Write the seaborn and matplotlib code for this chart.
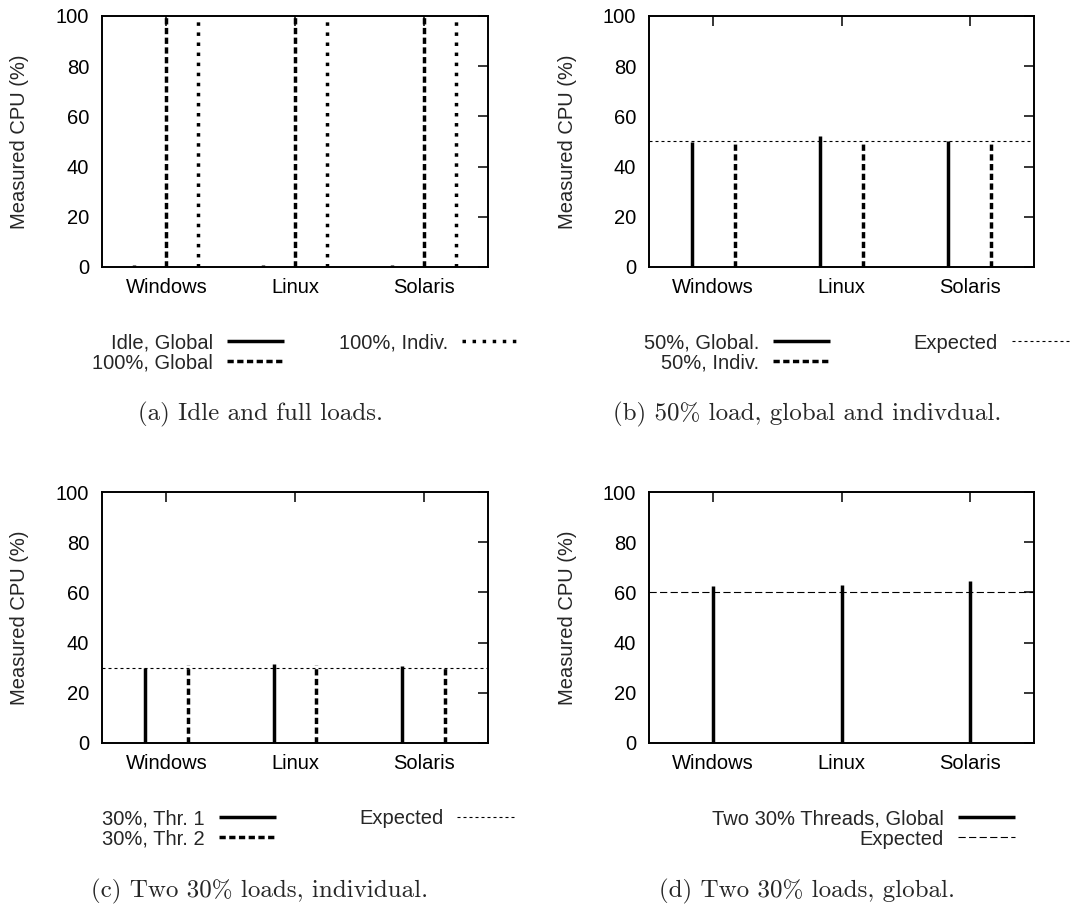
import numpy as np
import pandas as pd
import matplotlib
matplotlib.use("Agg")
import matplotlib.pyplot as plt
from matplotlib.lines import Line2D
import seaborn as sns

# ---------------- data ----------------
categories = ["Windows", "Linux", "Solaris"]
y_ticks = [0, 20, 40, 60, 80, 100]

# (a) Idle and full loads
a_labels = ["Idle, Global", "100%, Global", "100%, Indiv."]
a_idle_global = [0.8, 0.8, 0.7]
a_full_global = [100, 100, 100]
a_full_indiv = [99, 99, 99]

# (b) 50% load
b_labels = ["50%, Global.", "50%, Indiv.", "Expected"]
b_global = [49.8, 52.1, 50.2]
b_indiv = [49.8, 49.8, 49.8]
b_expected = 50

# (c) Two 30% loads, individual
c_labels = ["30%, Thr. 1", "30%, Thr. 2", "Expected"]
c_thr1 = [29.7, 31.3, 30.8]
c_thr2 = [31.0, 31.0, 30.5]
c_expected = 30

# (d) Two 30% loads, global
d_labels = ["Two 30% Threads, Global", "Expected"]
d_global = [62.6, 62.8, 64.4]
d_expected = 60

captions = ["(a) Idle and full loads.",
            "(b) 50% load, global and indivdual.",
            "(c) Two 30% loads, individual.",
            "(d) Two 30% loads, global."]

# ---------------- style ----------------
sns.set_style("white")
plt.rcParams["font.family"] = ["Liberation Sans", "DejaVu Sans"]
plt.rcParams["lines.solid_capstyle"] = "butt"
plt.rcParams["lines.dash_capstyle"] = "butt"

FS = 14.5
BAR_LW = 2.5
SOLID = ""
DASHED = (1.8, 1.0)
DOTTED = (1.0, 1.9)
EXP_LW = 0.8
EXP_DOT = (2.7, 2.7)
EXP_DASH = (6.5, 3.0)

W, H = 1092, 907
fig = plt.figure(figsize=(W / 100, H / 100), dpi=100)


def add_ax(x0, y0, x1, y1):
    return fig.add_axes([x0 / W, 1 - y1 / H, (x1 - x0) / W, (y1 - y0) / H])


axes = [add_ax(102, 16, 488, 267), add_ax(649, 16, 1034, 267),
        add_ax(102, 492, 488, 743), add_ax(649, 492, 1034, 743)]


def draw_bars(ax, series):
    rows = []
    order = []
    dash_map = {}
    for label, values, offset, dash in series:
        order.append(label)
        dash_map[label] = dash
        for i, v in enumerate(values):
            for yv in (0, v):
                rows.append({"x": i + offset, "y": yv, "series": label,
                             "unit": f"{label}|{i}"})
    df = pd.DataFrame(rows)
    sns.lineplot(data=df, x="x", y="y", style="series", style_order=order,
                 units="unit", estimator=None, sort=False, dashes=dash_map,
                 color="black", linewidth=BAR_LW, legend=False, ax=ax)


def style_axes(ax):
    ax.set_xlim(-0.5, 2.5)
    ax.set_ylim(0, 100)
    ax.set_xticks(range(len(categories)))
    ax.set_xticklabels(categories)
    ax.set_yticks(y_ticks)
    ax.set_xlabel("")
    ax.set_ylabel("Measured CPU (%)", fontsize=FS)
    ax.yaxis.set_label_coords(-0.188, 0.5)
    ax.tick_params(axis="both", direction="in", length=7, width=1.1,
                   top=True, right=True, labelsize=FS, colors="black")
    ax.tick_params(axis="y", pad=9.2)
    ax.tick_params(axis="x", pad=8)
    for sp in ax.spines.values():
        sp.set_visible(True)
        sp.set_linewidth(1.4)
        sp.set_color("black")


off = 1 / 4
draw_bars(axes[0], [(a_labels[0], a_idle_global, -off, SOLID),
                    (a_labels[1], a_full_global, 0.0, DASHED),
                    (a_labels[2], a_full_indiv, off, DOTTED)])
off2 = 1 / 6
draw_bars(axes[1], [(b_labels[0], b_global, -off2, SOLID),
                    (b_labels[1], b_indiv, off2, DASHED)])
axes[1].axhline(b_expected, color="black", lw=EXP_LW, dashes=EXP_DOT)
draw_bars(axes[2], [(c_labels[0], c_thr1, -off2, SOLID),
                    (c_labels[1], c_thr2, off2, DASHED)])
axes[2].axhline(c_expected, color="black", lw=EXP_LW, dashes=EXP_DOT)
draw_bars(axes[3], [(d_labels[0], d_global, 0.0, SOLID)])
axes[3].axhline(d_expected, color="black", lw=EXP_LW, dashes=EXP_DASH)

for ax in axes:
    style_axes(ax)


def h(dash, lw=BAR_LW):
    if dash == "":
        return Line2D([], [], color="black", lw=lw)
    return Line2D([], [], color="black", lw=lw, dashes=dash)


def legend(handles, labels, x, ytop, ncol, colsp):
    fig.legend(handles, labels, loc="upper left",
               bbox_to_anchor=(x / W, 1 - ytop / H),
               bbox_transform=fig.transFigure, frameon=False, borderpad=0,
               borderaxespad=0, markerfirst=False, handlelength=2.83,
               handletextpad=0.7, labelspacing=0.05, columnspacing=colsp,
               ncol=ncol, fontsize=FS)


legend([h(SOLID), h(DASHED), h(DOTTED)], a_labels, 92, 333.5, 2, 2.74)
legend([h(SOLID), h(DASHED), h(EXP_DOT, EXP_LW)], b_labels, 644, 333.5, 2, 4.13)
legend([h(SOLID), h(DASHED), h(EXP_DOT, EXP_LW)], c_labels, 102, 809.5, 2, 4.13)
legend([h(SOLID), h(EXP_DASH, EXP_LW)], d_labels, 712, 809.5, 1, 2.0)

cap_pos = [(260, 414), (807, 414), (260, 891), (807, 891)]
for (cx, cy), txt in zip(cap_pos, captions):
    fig.text(cx / W, 1 - cy / H, txt, ha="center", va="center",
             fontsize=18, family="cmr10")

fig.savefig("out.png", dpi=100)
